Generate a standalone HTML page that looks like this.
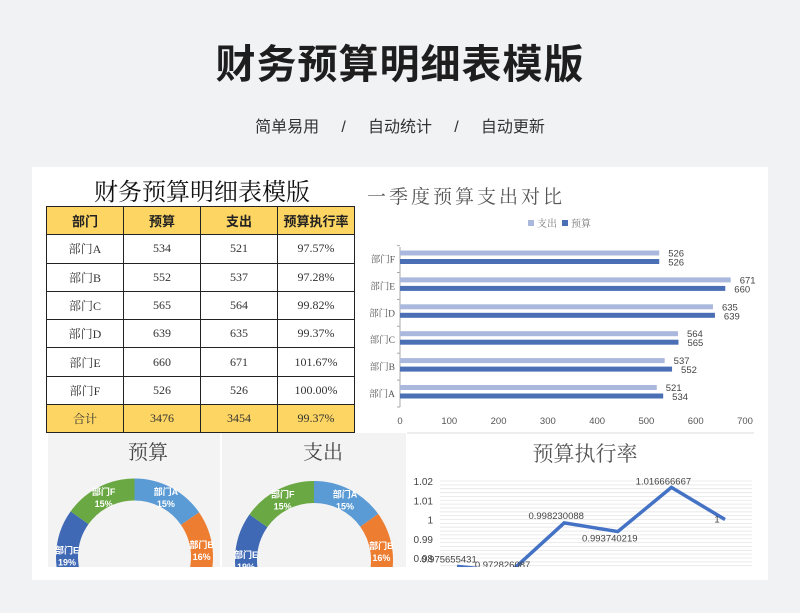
<!DOCTYPE html>
<html><head><meta charset="utf-8">
<style>
body{margin:0;width:800px;height:613px;background:#f1f2f4;font-family:"Liberation Sans","Noto Sans CJK SC",sans-serif;position:relative;overflow:hidden}
.abs{position:absolute}
#title{left:0;width:800px;top:32px;text-align:center;font-size:40px;font-weight:bold;color:#1e1e1e;letter-spacing:1px}
#sub{left:0;width:800px;top:113px;text-align:center;font-size:16px;color:#333;word-spacing:0}
#card{left:32px;top:167px;width:736px;height:413px;background:#fff}
table{border-collapse:collapse;position:absolute;left:46px;top:206px;font-family:"Liberation Serif","Noto Serif CJK SC",serif;font-size:12px;color:#333}
td{border:1.5px solid #222;width:76px;height:27.3px;text-align:center;padding:0}
tr.h td{background:#fdd562;font-family:"Liberation Sans","Noto Sans CJK SC",sans-serif;font-weight:bold;font-size:13px;color:#222}
tr.t td{background:#fdd562}
</style></head><body>
<div id="title" class="abs">财务预算明细表模版</div>
<div id="sub" class="abs">简单易用&nbsp;&nbsp;&nbsp;&nbsp;&nbsp;/&nbsp;&nbsp;&nbsp;&nbsp;&nbsp;自动统计&nbsp;&nbsp;&nbsp;&nbsp;&nbsp;/&nbsp;&nbsp;&nbsp;&nbsp;&nbsp;自动更新</div>
<div id="card" class="abs"></div>
<div class="abs" style="left:46px;width:312px;top:172px;text-align:center;font-size:24px;font-family:'Liberation Serif','Noto Serif CJK SC',serif;color:#111">财务预算明细表模版</div>
<table>
<tr class="h"><td>部门</td><td>预算</td><td>支出</td><td>预算执行率</td></tr>
<tr><td>部门A</td><td>534</td><td>521</td><td>97.57%</td></tr>
<tr><td>部门B</td><td>552</td><td>537</td><td>97.28%</td></tr>
<tr><td>部门C</td><td>565</td><td>564</td><td>99.82%</td></tr>
<tr><td>部门D</td><td>639</td><td>635</td><td>99.37%</td></tr>
<tr><td>部门E</td><td>660</td><td>671</td><td>101.67%</td></tr>
<tr><td>部门F</td><td>526</td><td>526</td><td>100.00%</td></tr>
<tr class="t"><td>合计</td><td>3476</td><td>3454</td><td>99.37%</td></tr>
</table>
<svg class="abs" style="left:0;top:0" width="800" height="613" id="svg"></svg>
<script>
const cats=["部门A","部门B","部门C","部门D","部门E","部门F"];
const budget=[534,552,565,639,660,526];
const spend=[521,537,564,635,671,526];
const rate=[0.975655431,0.972826087,0.998230088,0.993740219,1.016666667,1];
const xTicks=[0,100,200,300,400,500,600,700];
const yTicks=[0.98,0.99,1,1.01,1.02];
const pieColors=["#5b9bd5","#ed7d31","#a5a5a5","#ffc000","#3f68b5","#6aa843"];
const NS="http://www.w3.org/2000/svg";
const svg=document.getElementById('svg');
function mk(t,a,p){const e=document.createElementNS(NS,t);for(const k in a)e.setAttribute(k,a[k]);(p||svg).appendChild(e);return e;}
const SERIF="'Liberation Serif','Noto Serif CJK SC',serif";
let t=mk('text',{x:367,y:203,'font-size':19,fill:'#555','font-family':SERIF,'letter-spacing':3});t.textContent='一季度预算支出对比';

mk('rect',{x:528,y:220,width:6,height:6,fill:'#a9b8dc'});
t=mk('text',{x:537,y:227,'font-size':10,fill:'#777','font-family':SERIF});t.textContent='支出';

mk('rect',{x:562,y:220,width:6,height:6,fill:'#4a6fb5'});
t=mk('text',{x:571,y:227,'font-size':10,fill:'#777','font-family':SERIF});t.textContent='预算';

const bx=v=>400+v*345/700;
const by=i=>393-i*26.9;
mk('line',{x1:400,y1:247,x2:400,y2:407,stroke:'#aaa'});
for(let i=0;i<=6;i++)mk('line',{x1:397,y1:407-i*26.9,x2:400,y2:407-i*26.9,stroke:'#aaa'});
xTicks.forEach(v=>{const e=mk('text',{x:bx(v),y:424,'font-size':9.5,fill:'#555','text-anchor':'middle'});e.textContent=v;
});
cats.forEach((c,i)=>{const y=by(i);
let e=mk('text',{x:395,y:y+4,'font-size':9.5,fill:'#555','text-anchor':'end','font-family':SERIF});e.textContent=c;

e=mk('rect',{x:400,y:y-8,width:bx(spend[i])-400,height:5,fill:'#a9b8dc'});

e=mk('rect',{x:400,y:y+0.5,width:bx(budget[i])-400,height:5,fill:'#4a6fb5'});

e=mk('text',{x:bx(spend[i])+9,y:y-2,'font-size':9.5,fill:'#444'});e.textContent=spend[i];

e=mk('text',{x:bx(budget[i])+9,y:y+7,'font-size':9.5,fill:'#444'});e.textContent=budget[i];

});
mk('rect',{x:48,y:433,width:172,height:134,fill:'#f3f3f3'});
mk('rect',{x:222,y:433,width:184,height:134,fill:'#f3f3f3'});
mk('line',{x1:407,y1:433,x2:754,y2:433,stroke:'#ddd'});
const defs=mk('defs',{});const cp=mk('clipPath',{id:'cl'},defs);mk('rect',{x:0,y:0,width:800,height:567},cp);
function donut(vals,cx,cy,r,w,name,title,tx){
 let e=mk('text',{x:tx,y:459,'font-size':20,fill:'#444','text-anchor':'middle','font-family':SERIF});e.textContent=title;
 
 const g=mk('g',{'clip-path':'url(#cl)'});
 const s=vals.reduce((a,b)=>a+b,0);let a0=0;
 vals.forEach((v,i)=>{const a1=a0+v/s*2*Math.PI;const rm=r-w/2;
  const p=(a,rr)=>[cx+rr*Math.sin(a),cy-rr*Math.cos(a)];
  const [x0,y0]=p(a0,rm),[x1,y1]=p(a1,rm);
  const el=mk('path',{d:`M${x0},${y0}A${rm},${rm} 0 ${a1-a0>Math.PI?1:0} 1 ${x1},${y1}`,fill:'none',stroke:pieColors[i],'stroke-width':w},g);
  
  const am=(a0+a1)/2;const [lx,ly]=p(am,rm);
  const l1=mk('text',{x:lx,y:ly-2,'font-size':9,fill:'#fff','text-anchor':'middle','font-weight':'bold'},g);l1.textContent=cats[i];
  
  const l2=mk('text',{x:lx,y:ly+10,'font-size':9,fill:'#fff','text-anchor':'middle','font-weight':'bold'},g);l2.textContent=Math.round(v/s*100)+'%';
  
  a0=a1;});
}
donut(budget,134.5,557,78.5,22,'budget-donut','预算',148);
donut(spend,314,560,79,22,'spend-donut','支出',323);
t=mk('text',{x:585,y:461,'font-size':21,fill:'#555','text-anchor':'middle','font-family':SERIF});t.textContent='预算执行率';

const ly=v=>481+(1.02-v)/0.01*19.25;
const lx=i=>457+i*53.6;
const lg=mk('g',{'clip-path':'url(#cl)'});
for(let v=0.97;v<=1.0201;v+=0.002)mk('line',{x1:440,y1:ly(v),x2:752,y2:ly(v),stroke:'#e6e6e6','stroke-width':0.8},lg);
yTicks.forEach(v=>{const e=mk('text',{x:433,y:ly(v)+4,'font-size':10,fill:'#444','text-anchor':'end'},lg);e.textContent=v;
});
const ln=mk('polyline',{points:rate.map((v,i)=>lx(i)+','+ly(v)).join(' '),fill:'none',stroke:'#4472c4','stroke-width':3.5},lg);

rate.forEach((v,i)=>{const e=mk('text',{x:lx(i)-8,y:ly(v)+(i==3?10:i==4?-3:i==5?3:-4),'font-size':9.5,fill:'#444','text-anchor':'middle'},lg);e.textContent=v;
});
</script>
</body></html>
